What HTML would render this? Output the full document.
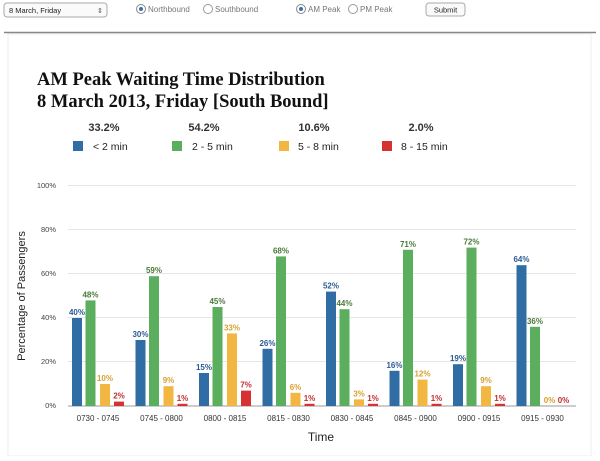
<!DOCTYPE html>
<html><head><meta charset="utf-8"><style>
body{margin:0;width:600px;height:456px;background:#fff;overflow:hidden;font-family:"Liberation Sans",sans-serif;}
</style></head><body>
<svg width="600" height="456" xmlns="http://www.w3.org/2000/svg" font-family="Liberation Sans, sans-serif">
<rect x="0" y="0" width="600" height="456" fill="#fff"/>
<rect x="4" y="3" width="103" height="14" rx="3" fill="#fafafa" stroke="#aaa"/>
<text x="9" y="13" font-size="7.5" fill="#222">8 March, Friday</text>
<text x="97" y="13" font-size="7" fill="#555">⇕</text>
<circle cx="141" cy="9" r="4.5" fill="#fff" stroke="#888"/><circle cx="141" cy="9" r="2" fill="#3a6fb0"/>
<text x="148" y="12" font-size="8" fill="#777">Northbound</text>
<circle cx="208" cy="9" r="4.5" fill="#fff" stroke="#999"/>
<text x="215" y="12" font-size="8" fill="#777">Southbound</text>
<circle cx="301" cy="9" r="4.5" fill="#fff" stroke="#888"/><circle cx="301" cy="9" r="2" fill="#3a6fb0"/>
<text x="308" y="12" font-size="8" fill="#777">AM Peak</text>
<circle cx="353" cy="9" r="4.5" fill="#fff" stroke="#999"/>
<text x="360" y="12" font-size="8" fill="#777">PM Peak</text>
<rect x="426" y="3" width="39" height="13" rx="3" fill="#fafafa" stroke="#aaa"/>
<text x="445.5" y="12.5" font-size="7.5" fill="#222" text-anchor="middle">Submit</text>
<line x1="4" y1="32.5" x2="596" y2="32.5" stroke="#888" stroke-width="1.5"/>
<rect x="8" y="34" width="583" height="422" fill="#fff" stroke="#eee"/>
<text x="37" y="85" font-family="Liberation Serif, serif" font-weight="bold" font-size="18.5" fill="#111">AM Peak Waiting Time Distribution</text>
<text x="37" y="107" font-family="Liberation Serif, serif" font-weight="bold" font-size="18.5" fill="#111">8 March 2013, Friday [South Bound]</text>
<g font-size="11" font-weight="bold" fill="#333" text-anchor="middle">
<text x="104" y="131">33.2%</text><text x="204" y="131">54.2%</text><text x="314" y="131">10.6%</text><text x="421" y="131">2.0%</text>
</g>
<rect x="73" y="141" width="10" height="10" fill="#2f6da4"/><text x="93" y="150" font-size="10.5" fill="#222">&lt; 2 min</text>
<rect x="172" y="141" width="10" height="10" fill="#5aae5e"/><text x="192" y="150" font-size="10.5" fill="#222">2 - 5 min</text>
<rect x="279" y="141" width="10" height="10" fill="#f2b643"/><text x="298" y="150" font-size="10.5" fill="#222">5 - 8 min</text>
<rect x="382" y="141" width="10" height="10" fill="#d73232"/><text x="401" y="150" font-size="10.5" fill="#222">8 - 15 min</text>
<g stroke="#e6e6e6" stroke-width="1">
<line x1="68" y1="185.5" x2="576" y2="185.5"/><line x1="68" y1="229.5" x2="576" y2="229.5"/>
<line x1="68" y1="273.5" x2="576" y2="273.5"/><line x1="68" y1="317.5" x2="576" y2="317.5"/>
<line x1="68" y1="361.5" x2="576" y2="361.5"/>
</g>
<line x1="68" y1="406" x2="576" y2="406" stroke="#999"/>
<g font-size="7.5" fill="#444" text-anchor="end">
<text x="56" y="188">100%</text><text x="56" y="232">80%</text><text x="56" y="276">60%</text>
<text x="56" y="320">40%</text><text x="56" y="364">20%</text><text x="56" y="408">0%</text>
</g>
<text transform="translate(25,296) rotate(-90)" font-size="11" fill="#222" text-anchor="middle">Percentage of Passengers</text>
<text x="321" y="441" font-size="12" fill="#222" text-anchor="middle">Time</text>
<g id="bars"></g>
</svg>
<script>
var d=[[40,48,10,2],[30,59,9,1],[15,45,33,7],[26,68,6,1],[52,44,3,1],[16,71,12,1],[19,72,9,1],[64,36,0,0]];
var lab=["0730 - 0745","0745 - 0800","0800 - 0815","0815 - 0830","0830 - 0845","0845 - 0900","0900 - 0915","0915 - 0930"];
var col=["#2f6da4","#5aae5e","#f2b643","#d73232"],tc=["#2c5a94","#4a7a3a","#d8a030","#c03030"],off=[0,13.5,28,42];
var s="";
for(var i=0;i<8;i++){var gx=72+63.5*i;
for(var k=0;k<4;k++){var v=d[i][k],h=v*2.2,x=gx+off[k];
s+='<rect x="'+x+'" y="'+(406-h)+'" width="10" height="'+h+'" fill="'+col[k]+'"/>';
s+='<text x="'+(x+5)+'" y="'+(403-h)+'" font-size="8" font-weight="bold" fill="'+tc[k]+'" text-anchor="middle">'+v+'%</text>';}
s+='<text x="'+(gx+26)+'" y="421" font-size="8" fill="#333" text-anchor="middle">'+lab[i]+'</text>';}
document.getElementById("bars").innerHTML=s;
</script>
</body></html>
